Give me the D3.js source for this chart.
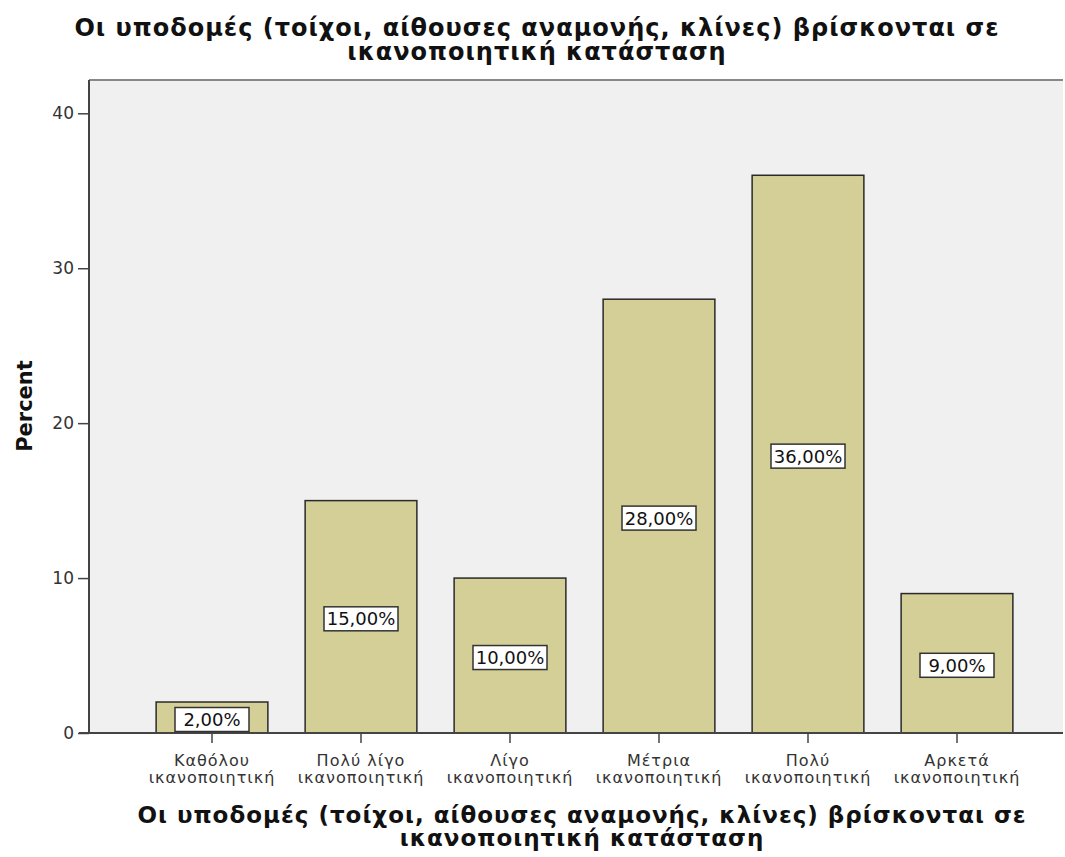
<!DOCTYPE html>
<html>
<head>
<meta charset="utf-8">
<script src="https://cdn.jsdelivr.net/npm/d3@7"></script>
<style>
  body { margin: 0; background: #fff; }
  text { font-family: "DejaVu Sans", sans-serif; }
</style>
</head>
<body>
<svg id="chart" width="1065" height="857"></svg>
<script>
// categories (two-line labels) and percentages
const categories = ["Καθόλου ικανοποιητική", "Πολύ λίγο ικανοποιητική", "Λίγο ικανοποιητική",
                    "Μέτρια ικανοποιητική", "Πολύ ικανοποιητική", "Αρκετά ικανοποιητική"];
const catLines = [["Καθόλου", "ικανοποιητική"], ["Πολύ λίγο", "ικανοποιητική"], ["Λίγο", "ικανοποιητική"],
                  ["Μέτρια", "ικανοποιητική"], ["Πολύ", "ικανοποιητική"], ["Αρκετά", "ικανοποιητική"]];
const percents = [2, 15, 10, 28, 36, 9];
const yTicks = [0, 10, 20, 30, 40];
const titleLines = ["Οι υποδομές (τοίχοι, αίθουσες αναμονής, κλίνες) βρίσκονται σε", "ικανοποιητική κατάσταση"];

const svg = d3.select("#chart");
const plot = {left: 89, right: 1063, top: 80, bottom: 733};

let y = d3.scaleLinear().domain([0, 40]).range([plot.bottom, 113.3]);
let x = d3.scaleBand().domain(categories).range([137.5, 1031.5])
    .paddingInner(0.25).paddingOuter(0.125);

// background
svg.append("rect")
    .attr("x", plot.left).attr("y", plot.top)
    .attr("width", plot.right - plot.left).attr("height", plot.bottom - plot.top)
    .attr("fill", "#f0f0f0");
svg.append("line")
    .attr("x1", plot.left).attr("x2", plot.right)
    .attr("y1", plot.top).attr("y2", plot.top)
    .attr("stroke", "#888").attr("stroke-width", 2);

// bars
svg.selectAll(".bar")
    .data(percents)
    .enter().append("rect")
    .attr("class", "bar")
    .attr("x", (d, i) => x(categories[i]))
    .attr("y", d => y(d))
    .attr("width", x.bandwidth())
    .attr("height", d => y(0) - y(d))
    .attr("fill", "#d3cf97")
    .attr("stroke", "#2a2a2a")
    .attr("stroke-width", 1.5);

// y axis
let yAxis = svg.append("g")
    .attr("transform", "translate(" + plot.left + ",0)")
    .call(d3.axisLeft(y).tickValues(yTicks).tickSize(11).tickPadding(4).tickSizeOuter(0));
yAxis.select(".domain").attr("stroke", "#444").attr("stroke-width", 2)
    .attr("d", "M0," + plot.top + "V" + plot.bottom);
yAxis.selectAll(".tick line").attr("stroke", "#444").attr("stroke-width", 1.5);
yAxis.selectAll(".tick text").attr("font-size", 17).attr("fill", "#333")
    .attr("font-family", "DejaVu Sans Condensed, DejaVu Sans");

// x axis
let xAxis = svg.append("g")
    .attr("transform", "translate(0," + plot.bottom + ")")
    .call(d3.axisBottom(x).tickSize(10).tickSizeOuter(0));
xAxis.select(".domain").attr("stroke", "#444").attr("stroke-width", 2)
    .attr("d", "M" + (plot.left - 10) + ",0H" + plot.right);
xAxis.selectAll(".tick line").attr("stroke", "#444").attr("stroke-width", 1.5);
xAxis.selectAll(".tick text").remove();
xAxis.selectAll(".tick").each(function(d, i) {
    let t = d3.select(this).append("text")
        .attr("fill", "#333").attr("font-size", 16)
        .attr("text-anchor", "middle")
        .attr("letter-spacing", "1px");
    catLines[i].forEach((line, k) => {
        t.append("tspan").attr("x", 0).attr("y", 33 + k * 17).text(line);
    });
});

// value labels
let lab = svg.selectAll(".lab")
    .data(percents)
    .enter().append("g")
    .attr("class", "lab")
    .attr("transform", (d, i) => "translate(" + (x(categories[i]) + x.bandwidth() / 2) + "," + (y(d / 2) + 2) + ")");
lab.append("rect")
    .attr("x", -37).attr("y", -12).attr("width", 74).attr("height", 24)
    .attr("fill", "#fff").attr("stroke", "#333").attr("stroke-width", 1.5);
lab.append("text")
    .attr("text-anchor", "middle").attr("dy", "0.36em")
    .attr("font-size", 18).attr("fill", "#111")
    .text(d => d.toFixed(2).replace(".", ",") + "%");

// titles
let title = svg.append("text")
    .attr("text-anchor", "middle")
    .attr("font-family", "DejaVu Sans Condensed, DejaVu Sans")
    .attr("font-weight", "bold").attr("font-size", 24)
    .attr("letter-spacing", "1px").attr("fill", "#111");
titleLines.forEach((line, k) => {
    title.append("tspan").attr("x", 537).attr("y", 36 + k * 24).text(line);
});

let xTitle = svg.append("text")
    .attr("text-anchor", "middle")
    .attr("font-family", "DejaVu Sans Condensed, DejaVu Sans")
    .attr("font-weight", "bold").attr("font-size", 23)
    .attr("letter-spacing", "1px").attr("fill", "#111");
titleLines.forEach((line, k) => {
    xTitle.append("tspan").attr("x", 582).attr("y", 823 + k * 23).text(line);
});

svg.append("text")
    .attr("transform", "translate(32,406) rotate(-90)")
    .attr("text-anchor", "middle")
    .attr("font-family", "DejaVu Sans Condensed, DejaVu Sans")
    .attr("font-weight", "bold").attr("font-size", 21).attr("fill", "#111")
    .text("Percent");
</script>
</body>
</html>
